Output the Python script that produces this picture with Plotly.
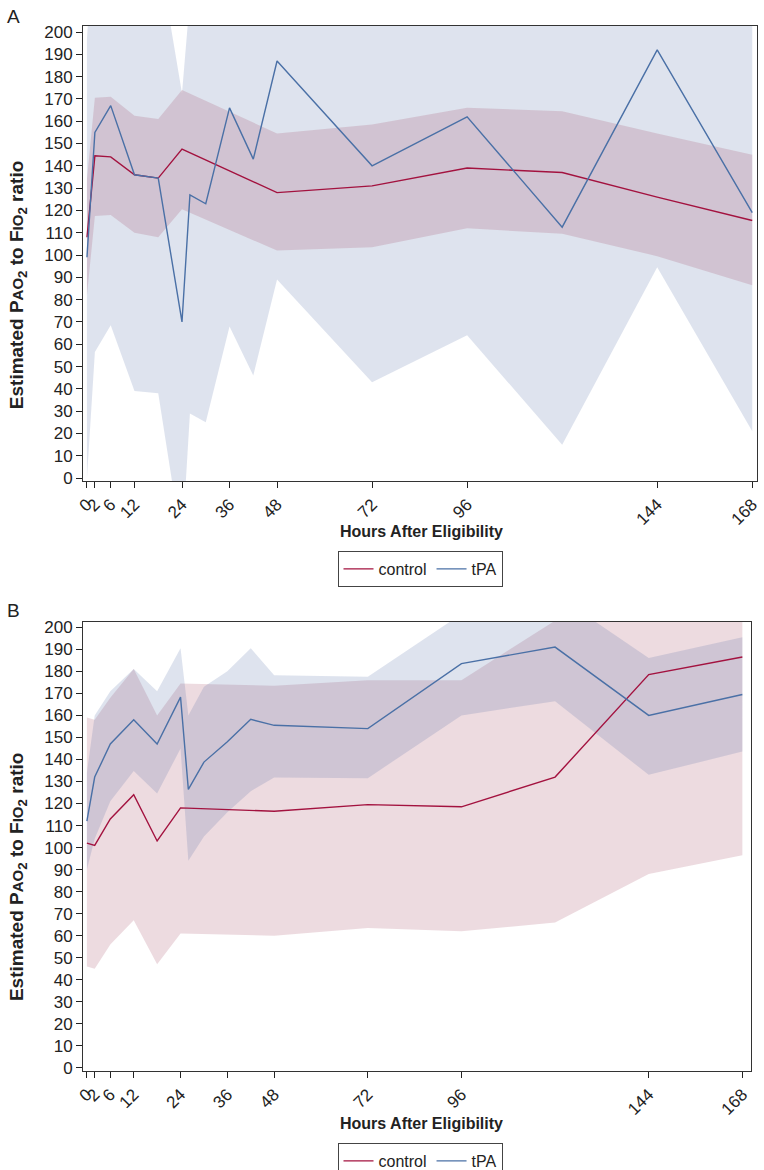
import plotly.graph_objects as go

# hours after eligibility
ctrl_hours = [0, 2, 6, 12, 18, 24, 48, 72, 96, 120, 144, 168]
tpa_hours = [0, 2, 6, 12, 18, 24, 26, 30, 36, 42, 48, 72, 96, 120, 144, 168]
tick_hours = [0, 2, 6, 12, 24, 36, 48, 72, 96, 144, 168]

# panel A
ctrl_a_mean = [108, 144.5, 144, 136, 134.5, 147.5, 128, 131, 139, 137, 126, 115.5]
ctrl_a_lo = [82, 117.5, 118, 110, 108, 120.5, 102, 103.5, 112, 109.5, 99.5, 86.5]
ctrl_a_hi = [134, 170.5, 171, 162.5, 161, 174, 154.5, 158.5, 166, 164.5, 154.5, 145]
tpa_a_mean = [99, 155, 167, 136, 134.5, 70, 127, 123, 166, 143, 187, 140, 162, 112.5, 192, 119]
tpa_a_lo = [0, 56.5, 68.5, 39, 38, -30, 29, 25, 68, 46, 89, 43, 64, 15, 94.5, 21]
tpa_a_hi = [197, 253, 265, 233, 236, 172.5, 215, 221, 264, 240, 285, 237, 260, 210, 290, 217]

# panel B
ctrl_b_mean = [102, 101, 113, 124, 103, 118, 116.5, 119.5, 118.5, 132, 178.5, 186.5]
ctrl_b_lo = [46, 45, 56, 67, 47, 61, 60, 63.5, 62, 66, 88, 96.5]
ctrl_b_hi = [159, 158, 168, 181, 160, 174.5, 173.5, 176, 176, 203, 269, 276]
tpa_b_mean = [112, 132, 147, 158, 147, 168.3, 126.4, 138.8, 148, 158.2, 155.5, 154, 183.5, 191, 160, 169.5]
tpa_b_lo = [90, 104, 121, 134.7, 124.5, 145, 94, 105, 116, 125.6, 131.8, 131.5, 160, 166.4, 133, 143.6]
tpa_b_hi = [134, 160, 171, 181, 171, 190.5, 160, 173, 180, 190.5, 178.2, 177.5, 206, 215, 186, 195.5]

CTRL_LINE = "#a3123f"
TPA_LINE = "#4a70a6"
CTRL_FILL = "rgba(150,40,70,0.17)"
TPA_FILL = "rgba(70,100,160,0.18)"
FONT = "Liberation Sans, Arial, sans-serif"

fig = go.Figure()


def band(x, lo, hi, color, xa, ya):
    fig.add_trace(go.Scatter(
        x=list(x) + list(x)[::-1], y=list(hi) + list(lo)[::-1],
        fill="toself", fillcolor=color, line=dict(width=0),
        mode="lines", hoverinfo="skip", showlegend=False,
        xaxis=xa, yaxis=ya))


def line(x, y, name, color, xa, ya, legend):
    fig.add_trace(go.Scatter(
        x=x, y=y, name=name, mode="lines",
        line=dict(color=color, width=1.4),
        xaxis=xa, yaxis=ya, legend=legend))


band(tpa_hours, tpa_a_lo, tpa_a_hi, TPA_FILL, "x", "y")
band(ctrl_hours, ctrl_a_lo, ctrl_a_hi, CTRL_FILL, "x", "y")
line(ctrl_hours, ctrl_a_mean, "control", CTRL_LINE, "x", "y", "legend")
line(tpa_hours, tpa_a_mean, "tPA", TPA_LINE, "x", "y", "legend")

band(ctrl_hours, ctrl_b_lo, ctrl_b_hi, CTRL_FILL, "x2", "y2")
band(tpa_hours, tpa_b_lo, tpa_b_hi, TPA_FILL, "x2", "y2")
line(ctrl_hours, ctrl_b_mean, "control", CTRL_LINE, "x2", "y2", "legend2")
line(tpa_hours, tpa_b_mean, "tPA", TPA_LINE, "x2", "y2", "legend2")

xcommon = dict(tickvals=tick_hours, tickangle=-45, ticks="outside", ticklen=6,
               tickcolor="#222", showline=True, linecolor="#333", linewidth=1,
               mirror=True, showgrid=False, zeroline=False, automargin=False,
               tickfont=dict(size=17, color="#222"))
ycommon = dict(tickvals=list(range(0, 201, 10)), ticks="outside", ticklen=6,
               tickcolor="#222", showline=True, linecolor="#333", linewidth=1,
               mirror=True, showgrid=False, zeroline=False, automargin=False,
               tickfont=dict(size=17, color="#222"))

ytitle = ("Estimated P<span style='font-size:15px'>AO</span><sub>2</sub> to "
          "F<span style='font-size:15px'>IO</span><sub>2</sub> ratio")

legend_common = dict(orientation="h", xanchor="center", x=0.5, yanchor="top",
                     bordercolor="#444", borderwidth=1, bgcolor="white",
                     font=dict(size=16, color="#222"), itemwidth=30,
                     tracegroupgap=0)

fig.update_layout(
    width=764, height=1170,
    margin=dict(l=83, r=7, t=26, b=99, autoexpand=False),
    paper_bgcolor="white", plot_bgcolor="white",
    font=dict(family=FONT, color="#222"),
    xaxis=dict(domain=[0, 1], range=[-1, 169.2], anchor="y", **xcommon),
    yaxis=dict(domain=[0.5646, 1], range=[-1.3, 202.7], anchor="x", **ycommon),
    xaxis2=dict(domain=[0, 0.991], range=[-1, 170.2], anchor="y2", **xcommon),
    yaxis2=dict(domain=[0, 0.4297], range=[-1.4, 202.4], anchor="x2", **ycommon),
    legend=dict(y=0.4976, **legend_common),
    legend2=dict(y=-0.0689, **legend_common),
    annotations=[
        dict(text="A", x=-0.116, y=1.021, xref="paper", yref="paper",
             xanchor="left", yanchor="top", showarrow=False,
             font=dict(size=19, color="#222")),
        dict(text="B", x=-0.116, y=0.4526, xref="paper", yref="paper",
             xanchor="left", yanchor="top", showarrow=False,
             font=dict(size=19, color="#222")),
        dict(text="<b>Hours After Eligibility</b>", x=0.5015, y=0.5158,
             xref="paper", yref="paper", showarrow=False,
             xanchor="center", yanchor="middle",
             font=dict(size=16, color="#222")),
        dict(text="<b>Hours After Eligibility</b>", x=0.5015, y=-0.0507,
             xref="paper", yref="paper", showarrow=False,
             xanchor="center", yanchor="middle",
             font=dict(size=16, color="#222")),
        dict(text="<b>" + ytitle + "</b>", x=-0.0964, y=0.752, textangle=-90,
             xref="paper", yref="paper", showarrow=False,
             xanchor="center", yanchor="middle",
             font=dict(size=19, color="#222")),
        dict(text="<b>" + ytitle + "</b>", x=-0.0964, y=0.1856, textangle=-90,
             xref="paper", yref="paper", showarrow=False,
             xanchor="center", yanchor="middle",
             font=dict(size=19, color="#222")),
    ],
)

fig.write_html("out.html", config={"displayModeBar": False},
               post_script="document.body.style.margin='0px';")
